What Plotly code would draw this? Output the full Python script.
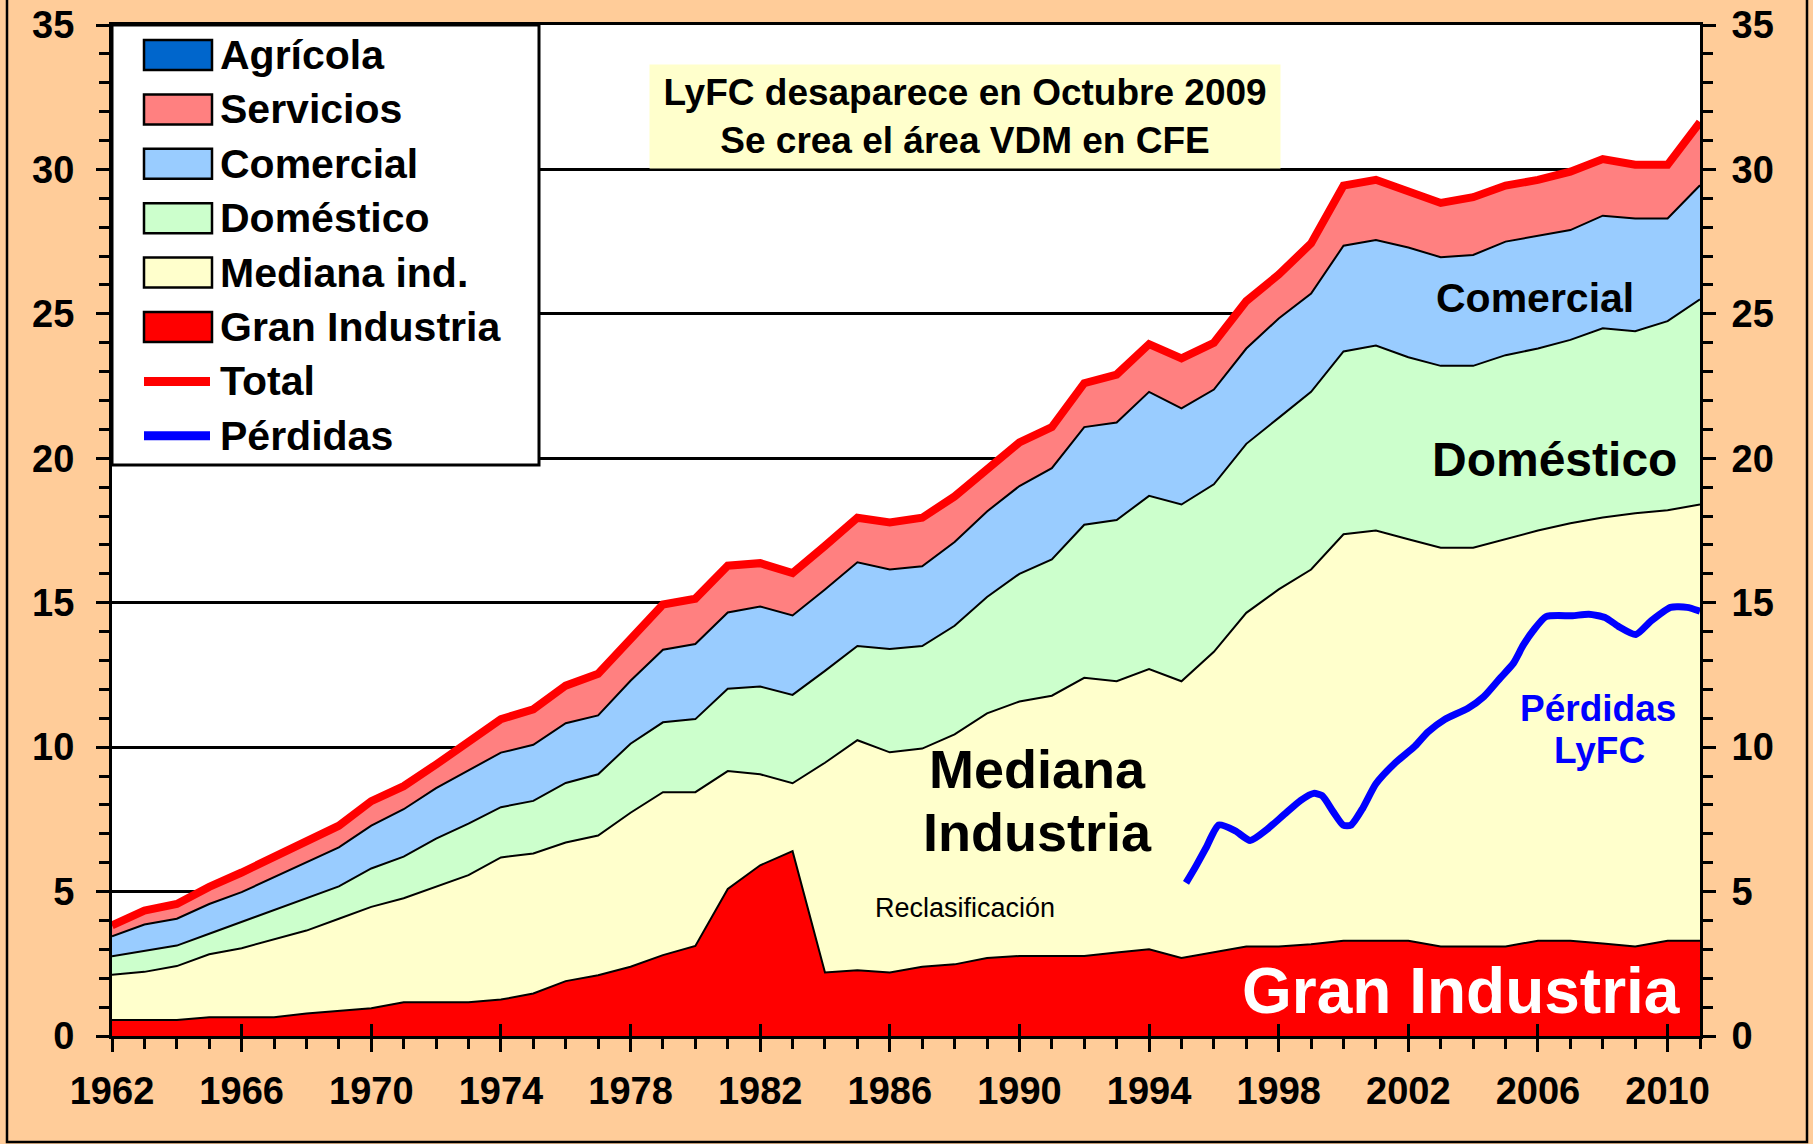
import plotly.graph_objects as go

# ---------------- data ----------------
years = list(range(1962, 2012))

gran_industria = [0.55, 0.55, 0.55, 0.65, 0.65, 0.65, 0.78, 0.87, 0.96, 1.17,
                  1.17, 1.17, 1.26, 1.47, 1.90, 2.10, 2.40, 2.80, 3.12, 5.09,
                  5.91, 6.40, 2.20, 2.28, 2.20, 2.40, 2.48, 2.70, 2.77, 2.77,
                  2.77, 2.89, 3.00, 2.70, 2.90, 3.10, 3.10, 3.18, 3.30, 3.30,
                  3.30, 3.10, 3.10, 3.10, 3.30, 3.30, 3.20, 3.10, 3.30, 3.30]

mediana_ind = [1.57, 1.67, 1.87, 2.18, 2.39, 2.69, 2.87, 3.19, 3.51, 3.60,
               3.99, 4.40, 4.92, 4.85, 4.80, 4.84, 5.33, 5.64, 5.32, 4.08,
               3.15, 2.35, 7.26, 7.96, 7.62, 7.55, 7.96, 8.47, 8.81, 9.01,
               9.63, 9.39, 9.70, 9.58, 10.40, 11.55, 12.36, 12.97, 14.07, 14.20,
               13.90, 13.80, 13.80, 14.10, 14.20, 14.45, 14.75, 15.00, 14.90, 15.10]

domestico = [0.64, 0.72, 0.71, 0.71, 0.91, 1.04, 1.12, 1.12, 1.33, 1.44,
             1.67, 1.78, 1.74, 1.82, 2.06, 2.12, 2.39, 2.42, 2.53, 2.85,
             3.04, 3.06, 3.18, 3.26, 3.58, 3.55, 3.76, 4.03, 4.42, 4.72,
             5.30, 5.58, 6.00, 6.12, 5.80, 5.85, 5.94, 6.15, 6.33, 6.40,
             6.30, 6.30, 6.30, 6.37, 6.30, 6.35, 6.55, 6.30, 6.55, 7.10]

comercial = [0.69, 0.92, 0.93, 1.03, 1.03, 1.12, 1.23, 1.35, 1.48, 1.64,
             1.75, 1.84, 1.89, 1.94, 2.07, 2.04, 2.18, 2.51, 2.60, 2.64,
             2.77, 2.75, 2.82, 2.90, 2.75, 2.76, 2.90, 2.96, 3.04, 3.16,
             3.38, 3.38, 3.60, 3.33, 3.28, 3.30, 3.44, 3.40, 3.66, 3.66,
             3.80, 3.76, 3.84, 3.93, 3.90, 3.80, 3.90, 3.90, 3.55, 3.95]

servicios = [0.33, 0.43, 0.46, 0.54, 0.63, 0.63, 0.71, 0.70, 0.80, 0.75,
             0.77, 0.94, 1.11, 1.18, 1.25, 1.39, 1.43, 1.52, 1.52, 1.57,
             1.45, 1.42, 1.46, 1.49, 1.58, 1.63, 1.53, 1.39, 1.46, 1.37,
             1.47, 1.61, 1.60, 1.68, 1.57, 1.59, 1.47, 1.69, 2.03, 2.03,
             1.89, 1.83, 1.95, 1.89, 1.89, 1.97, 1.91, 1.81, 1.81, 2.14]

agricola = [0.05, 0.05, 0.05, 0.05, 0.05, 0.05, 0.05, 0.05, 0.05, 0.05,
            0.05, 0.05, 0.05, 0.05, 0.05, 0.05, 0.05, 0.05, 0.05, 0.05,
            0.05, 0.05, 0.05, 0.05, 0.05, 0.05, 0.05, 0.05, 0.05, 0.05,
            0.05, 0.05, 0.05, 0.05, 0.05, 0.05, 0.05, 0.05, 0.05, 0.05,
            0.05, 0.05, 0.05, 0.05, 0.05, 0.05, 0.05, 0.05, 0.05, 0.05]

total = [3.83, 4.34, 4.57, 5.16, 5.66, 6.18, 6.76, 7.28, 8.13, 8.65,
         9.40, 10.18, 10.97, 11.31, 12.13, 12.54, 13.78, 14.94, 15.14, 16.28,
         16.37, 16.03, 16.97, 17.94, 17.78, 17.94, 18.68, 19.60, 20.55, 21.08,
         22.60, 22.90, 23.95, 23.46, 24.00, 25.44, 26.36, 27.44, 29.44, 29.64,
         29.24, 28.84, 29.04, 29.44, 29.64, 29.92, 30.36, 30.16, 30.16, 31.64]

perdidas_t = [1995.14, 1995.44, 1995.75, 1996.15, 1996.66, 1997.12, 1997.67,
              1998.17, 1998.68, 1999.08, 1999.34, 1999.69, 1999.99, 2000.23,
              2000.60, 2001.00, 2001.60, 2002.20, 2002.60, 2003.12, 2003.83,
              2004.33, 2004.84, 2005.24, 2005.55, 2005.85, 2006.25, 2007.06,
              2007.57, 2008.07, 2008.47, 2009.02, 2009.48, 2010.09, 2010.60, 2011.00]
perdidas_v = [5.30, 5.87, 6.50, 7.30, 7.10, 6.77, 7.18,
              7.67, 8.16, 8.40, 8.32, 7.75, 7.30, 7.30,
              7.90, 8.73, 9.46, 10.03, 10.52, 10.96, 11.34,
              11.75, 12.40, 12.90, 13.54, 14.03, 14.52, 14.55,
              14.60, 14.49, 14.19, 13.90, 14.36, 14.84, 14.84, 14.71]

legend_names = ["Agrícola", "Servicios", "Comercial", "Doméstico",
                "Mediana ind.", "Gran Industria", "Total", "Pérdidas"]
legend_colors = ["#0066CC", "#FF8080", "#99CCFF", "#CCFFCC",
                 "#FFFFCC", "#FF0000", "#FF0000", "#0000FF"]

# ---------------- layout geometry (pixels) ----------------
W, H = 1813, 1144
L, R, T, B = 112, 1700, 25, 1036
FONT = "Liberation Sans, Arial, sans-serif"


def PX(px):
    return (px - L) / (R - L)


def PY(py):
    return (B - py) / (B - T)


fig = go.Figure()

stack = [
    ("Gran Industria", gran_industria, "#FF0000", "black", 2),
    ("Mediana ind.", mediana_ind, "#FFFFCC", "black", 2),
    ("Doméstico", domestico, "#CCFFCC", "black", 2),
    ("Comercial", comercial, "#99CCFF", "black", 2),
    ("Servicios", servicios, "#FF8080", "#FF8080", 0.5),
    ("Agrícola", agricola, "#0066CC", "#0066CC", 0.5),
]
for name, vals, fc, lc, lw in stack:
    fig.add_trace(go.Scatter(
        x=years, y=vals, name=name, stackgroup="s", mode="lines",
        fillcolor=fc, line=dict(color=lc, width=lw), showlegend=False))

fig.add_trace(go.Scatter(x=years, y=total, name="Total", mode="lines",
                         line=dict(color="#FF0000", width=8), showlegend=False))
fig.add_trace(go.Scatter(x=perdidas_t, y=perdidas_v, name="Pérdidas", mode="lines",
                         line=dict(color="#0000FF", width=7, shape="spline", smoothing=0.6),
                         showlegend=False))

tickfont = dict(family=FONT, size=38, color="black", weight="bold")

fig.update_layout(
    width=W, height=H,
    margin=dict(l=L, r=W - R, t=T, b=H - B, pad=0, autoexpand=False),
    paper_bgcolor="#FFCC99",
    plot_bgcolor="white",
    showlegend=False,
    xaxis=dict(range=[1962, 2011], tick0=1962, dtick=4, ticks="outside",
               ticklen=13, tickwidth=2.5, tickcolor="black",
               minor=dict(dtick=1, tick0=1962, ticks="outside", ticklen=10,
                          tickwidth=2.5, tickcolor="black"),
               showline=True, linecolor="black", linewidth=3, mirror=True,
               showgrid=False, zeroline=False, tickfont=tickfont,
               ticklabelstandoff=6, automargin=False),
    xaxis2=dict(range=[1962, 2011], tick0=1962, dtick=4, ticks="inside",
                ticklen=12, tickwidth=2.5, tickcolor="black", overlaying="x",
                anchor="y", side="bottom", showticklabels=False, showgrid=False,
                zeroline=False, showline=False, automargin=False),
    yaxis=dict(range=[0, 35], tick0=0, dtick=5, ticks="outside", ticklen=13,
               tickwidth=2.5, tickcolor="black",
               minor=dict(dtick=1, ticks="outside", ticklen=10, tickwidth=2.5,
                          tickcolor="black"),
               showline=True, linecolor="black", linewidth=3,
               showgrid=True, gridcolor="black", gridwidth=2.5, zeroline=False,
               tickfont=tickfont, ticklabelstandoff=14, automargin=False),
    yaxis2=dict(range=[0, 35], tick0=0, dtick=5, ticks="outside", ticklen=13,
                tickwidth=2.5, tickcolor="black", overlaying="y", side="right",
                anchor="x",
                minor=dict(dtick=1, ticks="outside", ticklen=10, tickwidth=2.5,
                           tickcolor="black"),
                showline=True, linecolor="black", linewidth=3,
                showgrid=False, zeroline=False, tickfont=tickfont,
                ticklabelstandoff=8, automargin=False),
)
# invisible helper trace so the secondary axes are active
fig.add_trace(go.Scatter(x=[1962], y=[0], xaxis="x2", yaxis="y2", mode="markers",
                         marker=dict(opacity=0), showlegend=False, hoverinfo="skip"))

shapes = []
annotations = []

# outer border of the picture
shapes.append(dict(type="rect", xref="paper", yref="paper",
                   x0=PX(7), x1=PX(1807), y0=PY(1142), y1=PY(-6),
                   line=dict(color="black", width=2.5), layer="above"))

# custom legend
shapes.append(dict(type="rect", xref="paper", yref="paper",
                   x0=0, x1=PX(539), y0=PY(465), y1=1,
                   fillcolor="white", line=dict(color="black", width=3), layer="above"))
for i, (nm, col) in enumerate(zip(legend_names, legend_colors)):
    cy = 55 + 54.4 * i
    if i < 6:
        shapes.append(dict(type="rect", xref="paper", yref="paper",
                           x0=PX(144), x1=PX(212), y0=PY(cy + 15), y1=PY(cy - 15),
                           fillcolor=col, line=dict(color="black", width=2.5),
                           layer="above"))
    else:
        shapes.append(dict(type="line", xref="paper", yref="paper",
                           x0=PX(144), x1=PX(210), y0=PY(cy), y1=PY(cy),
                           line=dict(color=col, width=9), layer="above"))
    annotations.append(dict(text="<b>%s</b>" % nm, xref="paper", yref="paper",
                            x=PX(218), y=PY(cy), xanchor="left", yanchor="middle",
                            showarrow=False,
                            font=dict(family=FONT, size=41, color="black")))

# title box
annotations.append(dict(
    text="<b>LyFC desaparece en Octubre 2009<br>Se crea el área VDM en CFE</b>",
    xref="paper", yref="paper", x=PX(965), y=PY(117), xanchor="center",
    yanchor="middle", showarrow=False, bgcolor="#FFFFCC", width=626, height=99,
    borderpad=2, font=dict(family=FONT, size=37, color="black")))

# in-chart labels (data coordinates)
labels = [
    ("<b>Comercial</b>", 2005.9, 25.55, 41, "black"),
    ("<b>Doméstico</b>", 2006.5, 19.95, 48, "black"),
    ("<b>Mediana</b>", 1990.55, 9.24, 54, "black"),
    ("<b>Industria</b>", 1990.55, 7.06, 54, "black"),
    ("Reclasificación", 1988.33, 4.43, 27, "black"),
    ("<b>Gran Industria</b>", 2003.62, 1.56, 64, "white"),
    ("<b>Pérdidas</b>", 2007.86, 11.35, 37, "#0000FF"),
    ("<b>LyFC</b>", 2007.9, 9.88, 37, "#0000FF"),
]
for txt, xx, yy, sz, col in labels:
    annotations.append(dict(text=txt, x=xx, y=yy, xref="x", yref="y",
                            xanchor="center", yanchor="middle", showarrow=False,
                            font=dict(family=FONT, size=sz, color=col)))

fig.update_layout(shapes=shapes, annotations=annotations)

fig.write_html("out.html",
               config={"displayModeBar": False},
               post_script="document.body.style.margin='0px';"
                           "document.body.style.background='#FFCC99';")
